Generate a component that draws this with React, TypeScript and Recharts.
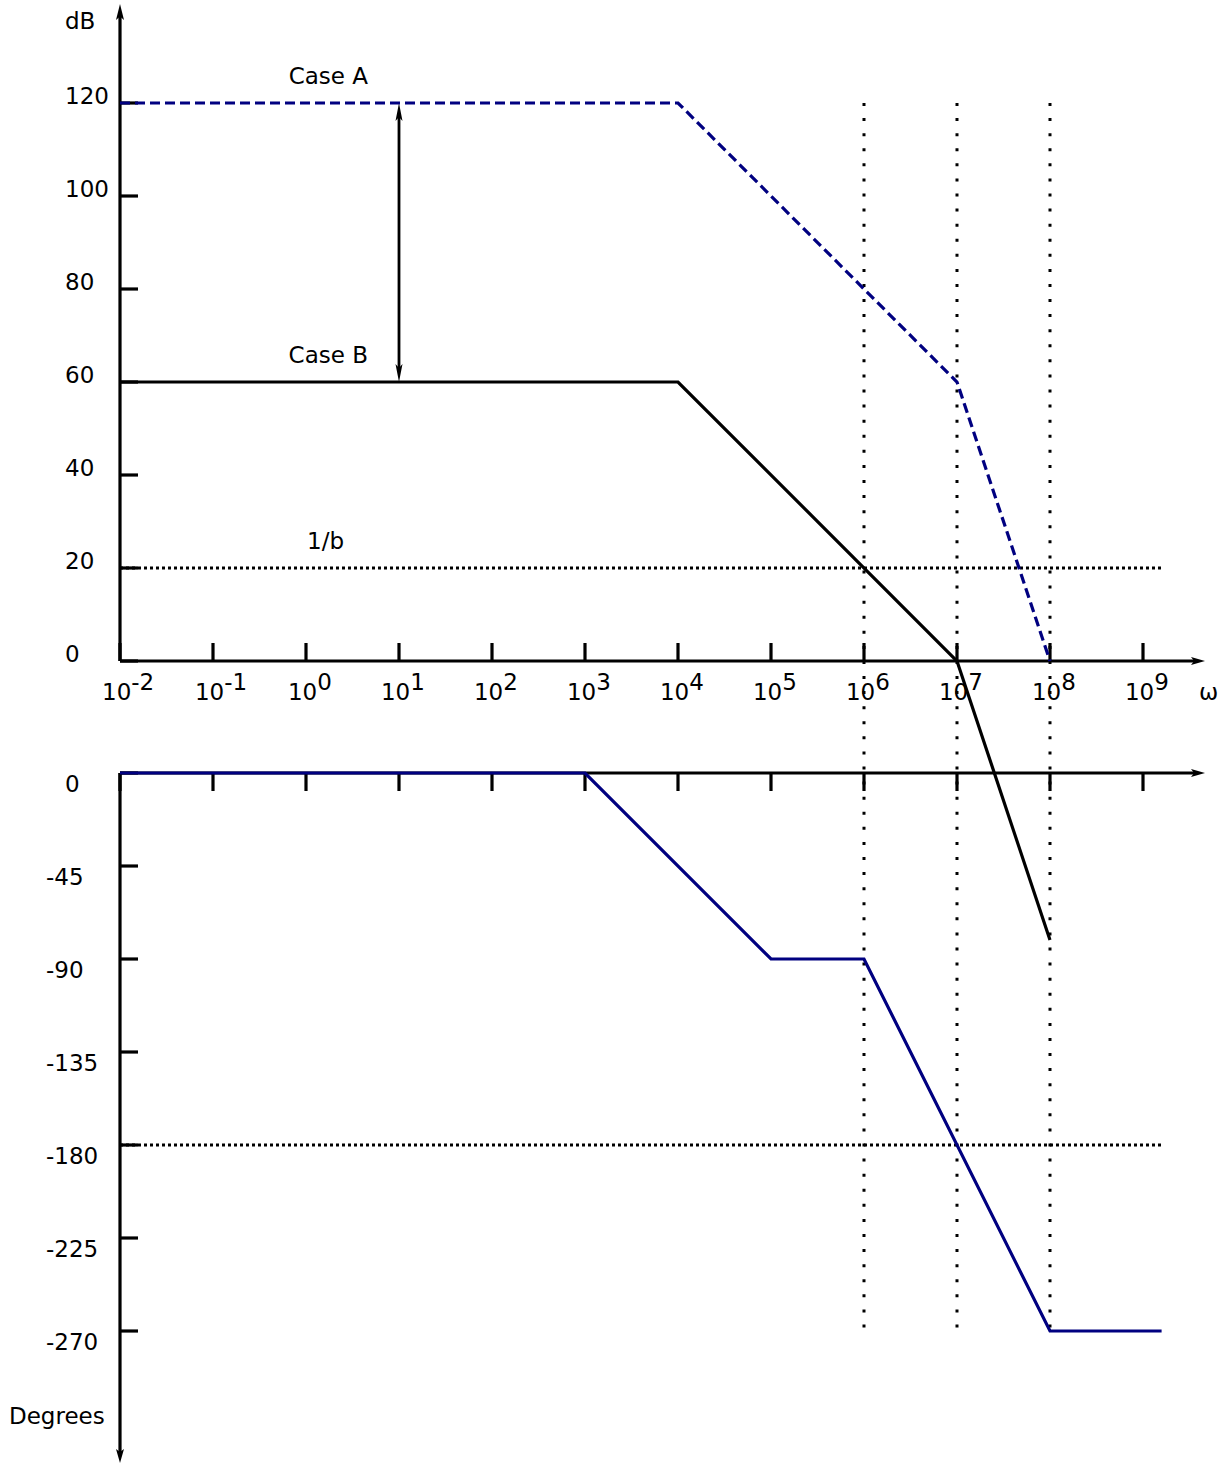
import React from 'react';
import { ComposedChart, Line, XAxis, YAxis, ReferenceLine, ReferenceDot } from 'recharts';

const FONT = '"DejaVu Sans", Verdana, sans-serif';
const FS = 23;
const NAVY = '#000080';
const BLACK = '#000000';
const SW = 3.2;

// x axis works in log10(ω)
const decadeExponents = [-2, -1, 0, 1, 2, 3, 4, 5, 6, 7, 8, 9];
const dbTicks = [0, 20, 40, 60, 80, 100, 120];
const degTicks = [0, -45, -90, -135, -180, -225, -270];

// Case A magnitude (dashed)
const caseAExp = [-2, 4, 7, 8];
const caseADb = [120, 120, 60, 0];
// Case B magnitude (solid)
const caseBExp = [-2, 4, 7, 8];
const caseBDb = [60, 60, 0, -60];
// Phase
const phaseExp = [-2, 3, 5, 6, 8, 9.2];
const phaseDeg = [0, 0, -90, -90, -270, -270];

// reference levels
const feedbackDb = 20; // 1/b
const phaseLimitDeg = -180;
const levelLineEndExp = 9.2;
const guideExps = [6, 7, 8];
const guideTopDb = 120;
const guideBottomDeg = -270;
const gapArrowExp = 1;
const gapArrowDb = [60, 120];

const annotationText = ['Case A', 'Case B', '1/b'];
const annotationExp = [0.24, 0.24, 0.21];
const annotationDb = [120, 60, 20];

const X_DOMAIN: [number, number] = [-2, 9.6667];
const DB_DOMAIN: [number, number] = [-172.47, 141.29];
const DEG_DOMAIN: [number, number] = [-333.87, 372.1];

const zip = (xs: number[], ys: number[]) => xs.map((x, i) => ({ x, y: ys[i] }));
const caseA = zip(caseAExp, caseADb);
const caseB = zip(caseBExp, caseBDb);
const phase = zip(phaseExp, phaseDeg);

const degToDb = (v: number) => {
  const t = (v - DEG_DOMAIN[0]) / (DEG_DOMAIN[1] - DEG_DOMAIN[0]);
  return DB_DOMAIN[0] + t * (DB_DOMAIN[1] - DB_DOMAIN[0]);
};

const head = (tx: number, ty: number, ux: number, uy: number, len: number, w: number) => {
  const nx = -uy;
  const ny = ux;
  const bx = tx - ux * len;
  const by = ty - uy * len;
  const mx = tx - ux * len * 0.78;
  const my = ty - uy * len * 0.78;
  const d = `M${tx},${ty} L${bx + (nx * w) / 2},${by + (ny * w) / 2} L${mx},${my} L${bx - (nx * w) / 2},${by - (ny * w) / 2} Z`;
  return <path d={d} fill={BLACK} stroke="none" />;
};

const ArrowLine = (p: any) => {
  const { x1, y1, x2, y2, start, end, len = 15, w = 8, sw = SW, children } = p;
  if ([x1, y1, x2, y2].some((v) => typeof v !== 'number' || isNaN(v))) return <g />;
  const dx = x2 - x1;
  const dy = y2 - y1;
  const L = Math.hypot(dx, dy) || 1;
  const ux = dx / L;
  const uy = dy / L;
  const sx = start ? x1 + ux * len * 0.6 : x1;
  const sy = start ? y1 + uy * len * 0.6 : y1;
  const ex = end ? x2 - ux * len * 0.6 : x2;
  const ey = end ? y2 - uy * len * 0.6 : y2;
  return (
    <g>
      <line x1={sx} y1={sy} x2={ex} y2={ey} stroke={BLACK} strokeWidth={sw} />
      {start ? head(x1, y1, -ux, -uy, len, w) : null}
      {end ? head(x2, y2, ux, uy, len, w) : null}
      {typeof children === 'function' ? children(x1, y1, x2, y2) : null}
    </g>
  );
};

const txt = (x: number, y: number, s: React.ReactNode, anchor: 'start' | 'middle' | 'end' = 'start') => (
  <text x={x} y={y} fontFamily={FONT} fontSize={FS} fill={BLACK} textAnchor={anchor}>
    {s}
  </text>
);

export default function App() {
  const guideBottomDb = degToDb(guideBottomDeg);
  return (
    <div style={{ position: 'absolute', left: 0, top: 0, width: 1230, height: 1465, background: '#fff' }}>
      <ComposedChart width={1230} height={1465} margin={{ top: 4, right: 25, bottom: 2, left: 120 }}>
        <XAxis type="number" dataKey="x" domain={X_DOMAIN} hide />
        <YAxis yAxisId="db" type="number" domain={DB_DOMAIN} hide />
        <YAxis yAxisId="deg" type="number" domain={DEG_DOMAIN} hide />

        {/* dotted guides */}
        {guideExps.map((e) => (
          <ReferenceLine
            key={`g${e}`}
            yAxisId="db"
            ifOverflow="visible"
            zIndex={100}
            segment={[{ x: e, y: guideTopDb }, { x: e, y: guideBottomDb }]}
            stroke={BLACK}
            strokeWidth={3}
            strokeDasharray="3 12.08"
          />
        ))}
        <ReferenceLine
          yAxisId="db"
          ifOverflow="visible"
          zIndex={100}
          segment={[{ x: X_DOMAIN[0], y: feedbackDb }, { x: levelLineEndExp, y: feedbackDb }]}
          stroke={BLACK}
          strokeWidth={3}
          strokeDasharray="3 3"
        />
        <ReferenceLine
          yAxisId="deg"
          ifOverflow="visible"
          zIndex={100}
          segment={[{ x: X_DOMAIN[0], y: phaseLimitDeg }, { x: levelLineEndExp, y: phaseLimitDeg }]}
          stroke={BLACK}
          strokeWidth={3}
          strokeDasharray="3 3"
        />

        {/* axes */}
        <ReferenceLine
          yAxisId="db"
          ifOverflow="visible"
          zIndex={100}
          segment={[{ x: X_DOMAIN[0], y: 0 }, { x: X_DOMAIN[1], y: 0 }]}
          shape={(p: any) => (
            <ArrowLine {...p} end len={14} w={8}>
              {(_a: number, _b: number, x2: number, y2: number) => txt(x2 - 6, y2 + 39, 'ω')}
            </ArrowLine>
          )}
        />
        <ReferenceLine
          yAxisId="db"
          ifOverflow="visible"
          zIndex={100}
          segment={[{ x: X_DOMAIN[0], y: 0 }, { x: X_DOMAIN[0], y: DB_DOMAIN[1] }]}
          shape={(p: any) => (
            <ArrowLine {...p} end len={16} w={8}>
              {(_a: number, _b: number, x2: number, y2: number) => txt(x2 - 55, y2 + 25, 'dB')}
            </ArrowLine>
          )}
        />
        <ReferenceLine
          yAxisId="deg"
          ifOverflow="visible"
          zIndex={100}
          segment={[{ x: X_DOMAIN[0], y: 0 }, { x: X_DOMAIN[1], y: 0 }]}
          shape={(p: any) => <ArrowLine {...p} end len={14} w={8} />}
        />
        <ReferenceLine
          yAxisId="deg"
          ifOverflow="visible"
          zIndex={100}
          segment={[{ x: X_DOMAIN[0], y: 0 }, { x: X_DOMAIN[0], y: DEG_DOMAIN[0] }]}
          shape={(p: any) => (
            <ArrowLine {...p} end len={14} w={8}>
              {(_a: number, _b: number, x2: number, y2: number) => txt(x2 - 111, y2 - 39, 'Degrees')}
            </ArrowLine>
          )}
        />

        {/* x ticks (top, with labels) */}
        {decadeExponents.map((e) => (
          <ReferenceDot
            key={`tx${e}`}
            yAxisId="db"
            x={e}
            y={0}
            ifOverflow="visible"
            zIndex={100}
            shape={(p: any) => (
              <g>
                <line x1={p.cx} y1={p.cy} x2={p.cx} y2={p.cy - 18} stroke={BLACK} strokeWidth={SW} />
                {txt(
                  p.cx - 18,
                  p.cy + 39,
                  <>
                    10<tspan dy={-10.5}>{String(e)}</tspan>
                  </>
                )}
              </g>
            )}
          />
        ))}
        {/* x ticks (bottom) */}
        {decadeExponents.map((e) => (
          <ReferenceDot
            key={`bx${e}`}
            yAxisId="deg"
            x={e}
            y={0}
            ifOverflow="visible"
            zIndex={100}
            shape={(p: any) => (
              <line x1={p.cx} y1={p.cy} x2={p.cx} y2={p.cy + 18} stroke={BLACK} strokeWidth={SW} />
            )}
          />
        ))}
        {/* dB ticks */}
        {dbTicks.map((v) => (
          <ReferenceDot
            key={`db${v}`}
            yAxisId="db"
            x={X_DOMAIN[0]}
            y={v}
            ifOverflow="visible"
            zIndex={100}
            shape={(p: any) => (
              <g>
                <line x1={p.cx} y1={p.cy} x2={p.cx + 18} y2={p.cy} stroke={BLACK} strokeWidth={SW} />
                {txt(p.cx - 55, p.cy + 1, String(v))}
              </g>
            )}
          />
        ))}
        {/* degree ticks */}
        {degTicks.map((v) => (
          <ReferenceDot
            key={`deg${v}`}
            yAxisId="deg"
            x={X_DOMAIN[0]}
            y={v}
            ifOverflow="visible"
            zIndex={100}
            shape={(p: any) => (
              <g>
                <line x1={p.cx} y1={p.cy} x2={p.cx + 18} y2={p.cy} stroke={BLACK} strokeWidth={SW} />
                {txt(v === 0 ? p.cx - 55 : p.cx - 74, p.cy + 18.5, String(v))}
              </g>
            )}
          />
        ))}

        {/* annotations */}
        {annotationText.map((t, i) => (
          <ReferenceDot
            key={`an${i}`}
            yAxisId="db"
            x={annotationExp[i]}
            y={annotationDb[i]}
            ifOverflow="visible"
            zIndex={100}
            shape={(p: any) => txt(p.cx, p.cy - 19, t, 'middle')}
          />
        ))}

        {/* double arrow between case A and case B */}
        <ReferenceLine
          yAxisId="db"
          ifOverflow="visible"
          zIndex={100}
          segment={[{ x: gapArrowExp, y: gapArrowDb[0] }, { x: gapArrowExp, y: gapArrowDb[1] }]}
          shape={(p: any) => <ArrowLine {...p} start end len={18} w={7} sw={2.8} />}
        />

        <Line
          yAxisId="db"
          data={caseA}
          dataKey="y"
          type="linear"
          stroke={NAVY}
          strokeWidth={SW}
          strokeDasharray="10 5"
          dot={false}
          activeDot={false}
          isAnimationActive={false}
        />
        <Line
          yAxisId="db"
          data={caseB}
          dataKey="y"
          type="linear"
          stroke={BLACK}
          strokeWidth={SW}
          dot={false}
          activeDot={false}
          isAnimationActive={false}
        />
        <Line
          yAxisId="deg"
          data={phase}
          dataKey="y"
          type="linear"
          stroke={NAVY}
          strokeWidth={SW}
          dot={false}
          activeDot={false}
          isAnimationActive={false}
        />
      </ComposedChart>
    </div>
  );
}
